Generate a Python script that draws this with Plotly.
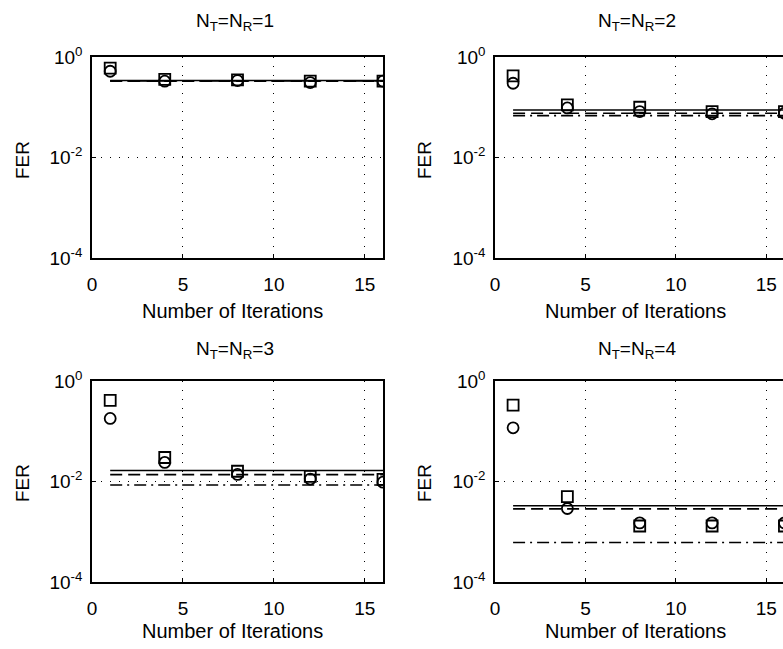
import plotly.graph_objects as go

# ---------------- data ----------------
iterations = [1, 4, 8, 12, 16]
line_x = [1, 16]
x_ticks = [0, 5, 10, 15]
y_tickvals = [1e-4, 1e-2, 1]
y_ticktext = ["10<sup>-4</sup>", "10<sup>-2</sup>", "10<sup>0</sup>"]
titles = ["N<sub>T</sub>=N<sub>R</sub>=1", "N<sub>T</sub>=N<sub>R</sub>=2",
          "N<sub>T</sub>=N<sub>R</sub>=3", "N<sub>T</sub>=N<sub>R</sub>=4"]

squares_1 = [0.60, 0.36, 0.35, 0.33, 0.33]
circles_1 = [0.52, 0.33, 0.34, 0.31, 0.33]
solid_1, dashed_1, dashdot_1 = 0.34, 0.33, 0.335

squares_2 = [0.42, 0.111, 0.10, 0.082, 0.082]
circles_2 = [0.30, 0.097, 0.082, 0.074, 0.076]
solid_2, dashed_2, dashdot_2 = 0.088, 0.076, 0.068

squares_3 = [0.41, 0.030, 0.016, 0.0127, 0.011]
circles_3 = [0.18, 0.024, 0.0138, 0.0112, 0.0097]
solid_3, dashed_3, dashdot_3 = 0.0165, 0.0137, 0.0085

squares_4 = [0.33, 0.005, 0.0013, 0.0013, 0.0013]
circles_4 = [0.117, 0.0029, 0.0015, 0.0015, 0.0015]
solid_4, dashed_4, dashdot_4 = 0.0033, 0.00285, 0.00061

panels = [
    (squares_1, circles_1, solid_1, dashed_1, dashdot_1),
    (squares_2, circles_2, solid_2, dashed_2, dashdot_2),
    (squares_3, circles_3, solid_3, dashed_3, dashdot_3),
    (squares_4, circles_4, solid_4, dashed_4, dashdot_4),
]

# ---------------- layout geometry ----------------
W, H = 783, 649
FONT = "Liberation Sans, Arial, sans-serif"
# pixel boxes (left, right, top, bottom)
boxes = [(92, 383, 57, 258), (495, 783, 57, 258), (92, 383, 381, 582), (495, 783, 381, 582)]
x_ranges = [[0, 16], [0, 15.92], [0, 16], [0, 15.92]]
title_pos = [(235, 22), (637, 22), (235, 350), (637, 350)]
xlabel_pos = [(233, 311), (635, 311), (233, 631), (635, 631)]
ylabel_pos = [(22, 160), (424, 160), (22, 483), (424, 483)]

fig = go.Figure()
line_styles = [("solid", None), ("dashed", "12px,6px"), ("dashdot", "12px,5px,2px,5px")]

for i, (sq, ci, s, d, dd) in enumerate(panels):
    n = "" if i == 0 else str(i + 1)
    xa, ya = "x" + n, "y" + n
    for val, (name, dash) in zip([s, d, dd], line_styles):
        fig.add_trace(go.Scatter(x=line_x, y=[val, val], mode="lines", xaxis=xa, yaxis=ya,
                                 line=dict(color="black", width=1.6, dash=dash or "solid"),
                                 showlegend=False, hoverinfo="skip"))
    fig.add_trace(go.Scatter(x=iterations, y=sq, mode="markers", xaxis=xa, yaxis=ya,
                             marker=dict(symbol="square-open", size=11, color="black",
                                         line=dict(color="black", width=1.8)),
                             showlegend=False))
    fig.add_trace(go.Scatter(x=iterations, y=ci, mode="markers", xaxis=xa, yaxis=ya,
                             marker=dict(symbol="circle-open", size=11, color="black",
                                         line=dict(color="black", width=1.8)),
                             showlegend=False))

layout = dict(width=W, height=H, margin=dict(l=0, r=0, t=0, b=0, autoexpand=False),
              paper_bgcolor="white", plot_bgcolor="white",
              font=dict(family=FONT, size=18, color="black"), showlegend=False)

for i, (l, r, t, b) in enumerate(boxes):
    n = "" if i == 0 else str(i + 1)
    right_col = i in (1, 3)
    layout["xaxis" + n] = dict(
        domain=[l / W, r / W], anchor="y" + n, range=x_ranges[i], automargin=False,
        tickvals=x_ticks, ticks="inside", ticklen=4, tickcolor="black",
        showline=True, mirror=True, linecolor="black", linewidth=1.5,
        showgrid=True, gridcolor="black", gridwidth=1, griddash="1px,8px",
        zeroline=False, ticklabelstandoff=8,
        tickfont=dict(family=FONT, size=19, color="black"))
    layout["yaxis" + n] = dict(
        domain=[1 - b / H, 1 - t / H], anchor="x" + n, type="log", range=[-4, 0],
        automargin=False,
        tickvals=y_tickvals, ticktext=y_ticktext, ticks="inside", ticklen=4,
        tickcolor="black", showline=True, mirror=(not right_col), linecolor="black",
        linewidth=1.5, showgrid=True, gridcolor="black", gridwidth=1, griddash="1px,8px",
        zeroline=False, ticklabelstandoff=4,
        tickfont=dict(family=FONT, size=19, color="black"))

annotations = []
for i in range(4):
    tx, ty = title_pos[i]
    annotations.append(dict(text=titles[i], x=tx / W, y=1 - ty / H, xref="paper", yref="paper",
                            showarrow=False, xanchor="center", yanchor="middle",
                            font=dict(family=FONT, size=19, color="black")))
    lx, ly = xlabel_pos[i]
    annotations.append(dict(text="Number of Iterations", x=lx / W, y=1 - ly / H, xref="paper",
                            yref="paper", showarrow=False, xanchor="center", yanchor="middle",
                            font=dict(family=FONT, size=20, color="black")))
    fx, fy = ylabel_pos[i]
    annotations.append(dict(text="FER", x=fx / W, y=1 - fy / H, xref="paper", yref="paper",
                            showarrow=False, xanchor="center", yanchor="middle", textangle=-90,
                            font=dict(family=FONT, size=19, color="black")))
layout["annotations"] = annotations

fig.update_layout(**layout)
fig.write_html("out.html", config={"displayModeBar": False},
               post_script="document.body.style.margin='0';document.body.style.padding='0';"
                           "document.body.style.overflow='hidden';")
